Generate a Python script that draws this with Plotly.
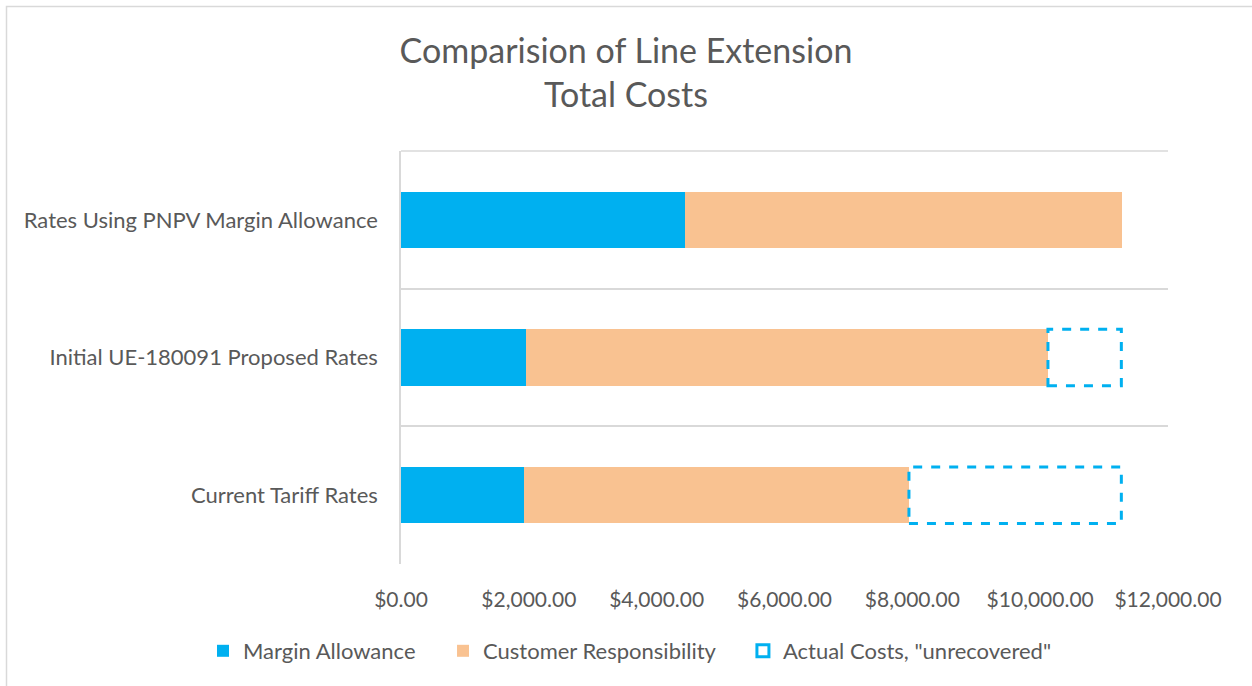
import plotly.graph_objects as go

categories = ["Current Tariff Rates", "Initial UE-180091 Proposed Rates", "Rates Using PNPV Margin Allowance"]
margin_allowance = [1924, 1956, 4443]
customer_responsibility = [6023, 8166, 6837]
actual_costs = [11270, 11270, 11270]
x_tickvals = [0, 2000, 4000, 6000, 8000, 10000, 12000]
x_ticktext = ["$0.00", "$2,000.00", "$4,000.00", "$6,000.00", "$8,000.00", "$10,000.00", "$12,000.00"]

BLUE = "#00B0F0"
ORANGE = "#F9C291"
TEXT = "#595959"
GRID = "#D9D9D9"
FONT = "Lato"

W, H = 1252, 686
L, R, T, B = 401, 84, 151, 122
PW, PH = W - L - R, H - T - B
PAD = "\u00a0" * 4

fig = go.Figure()
fig.add_trace(go.Bar(y=categories, x=margin_allowance, orientation="h", name="Margin Allowance" + PAD,
                     marker=dict(color=BLUE, line=dict(width=0))))
fig.add_trace(go.Bar(y=categories, x=customer_responsibility, orientation="h", name="Customer Responsibility" + PAD,
                     marker=dict(color=ORANGE, line=dict(width=0))))

bw = 0.41
first = True
for i, cat in enumerate(categories):
    start = margin_allowance[i] + customer_responsibility[i]
    end = actual_costs[i]
    if end - start > 1:
        fig.add_shape(type="rect", xref="x", yref="y", x0=start, x1=end, y0=i - bw / 2, y1=i + bw / 2,
                      line=dict(color=BLUE, width=3, dash="dash"), fillcolor="rgba(0,0,0,0)",
                      name='Actual Costs, "unrecovered"', showlegend=first, legendgroup="unrec")
        first = False

def px_x(p):
    return (p - L) / PW

def px_y(p):
    return (H - B - p) / PH

# outer chart border
fig.add_shape(type="rect", xref="paper", yref="paper", x0=px_x(6.5), x1=px_x(1265), y0=px_y(700), y1=px_y(6.5),
              line=dict(color=GRID, width=1.5), fillcolor="rgba(0,0,0,0)", layer="below")
# top border of plot area
fig.add_shape(type="line", xref="paper", yref="paper", x0=0, x1=1, y0=1, y1=1,
              line=dict(color=GRID, width=1.5), layer="below")

fig.update_layout(
    width=W, height=H,
    margin=dict(l=L, r=R, t=T, b=B),
    barmode="stack",
    bargap=0.59,
    plot_bgcolor="white", paper_bgcolor="white",
    font=dict(family=FONT, color=TEXT),
    title=dict(text="Comparision of Line Extension<br>Total Costs", x=0.5, xref="container", xanchor="center",
               y=1 - 63 / H, yref="container", yanchor="middle", font=dict(size=34, color=TEXT, family=FONT)),
    xaxis=dict(range=[0, 12000], tickvals=x_tickvals, ticktext=x_ticktext, showgrid=False, zeroline=False,
               showline=False, ticks="", tickfont=dict(size=21, color=TEXT), ticklabelstandoff=21),
    yaxis=dict(type="category", categoryorder="array", categoryarray=categories, range=[-0.5, 2.5],
               tickson="boundaries", showgrid=True, gridcolor=GRID, gridwidth=1.5, ticks="",
               showline=True, linecolor=GRID, linewidth=1.5, zeroline=False,
               tickfont=dict(size=22, color=TEXT), ticklabelstandoff=17),
    legend=dict(orientation="h", x=px_x(203), xanchor="left", y=px_y(651), yanchor="middle",
                font=dict(size=22, color=TEXT), traceorder="normal", itemwidth=30),
    showlegend=True,
)

fig.write_html("out.html")
